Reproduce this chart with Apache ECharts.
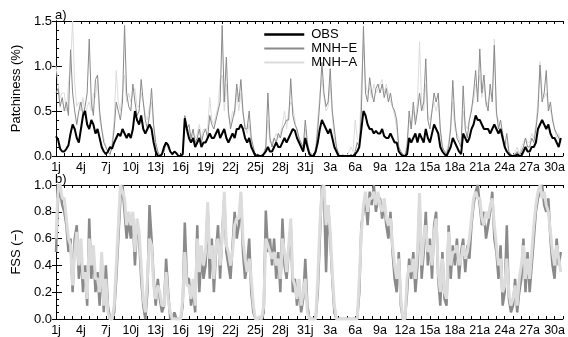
<!DOCTYPE html>
<html>
<head>
<meta charset="utf-8">
<script src="https://cdn.jsdelivr.net/npm/echarts@6/dist/echarts.min.js"></script>
<style>
  html, body { margin: 0; padding: 0; background: #fff; }
  #chart { width: 568px; height: 337px; }
</style>
</head>
<body>
<div id="chart"></div>
<script>
// Summer 2 months, July 1 to August 31, sampled every 6 hours (4 values per day)
const STEP_DAYS = 0.25;

// Tick labels every 3 days (j = juillet, a = août)
const tickLabels = ['1j','4j','7j','10j','13j','16j','19j','22j','25j','28j','31j',
                    '3a','6a','9a','12a','15a','18a','21a','24a','27a','30a'];

// Patchiness (%) — observations
const obs = [
  .22,.18,.08,.05, .05,.08,.12,.25, .35,.3,.2,.15, .3,.45,.5,.35,
  .3,.4,.35,.25, .3,.2,.1,.05, .02,.05,.1,.08, .15,.2,.25,.22,
  .3,.25,.2,.25, .2,.3,.5,.4, .35,.45,.3,.25, .3,.35,.3,.15,
  .05,0,0,.02, .1,.15,.12,.05, .02,.05,.03,0, 0,.02,.42,.3,
  .2,.15,.2,.1, .15,.2,.1,.15, .15,.2,.25,.2, .2,.25,.3,.2,
  .25,.3,.2,.15, .2,.25,.2,.3, .3,.35,.3,.2, .15,.2,.1,.05,
  0,.01,0,0, .02,.05,.1,.05, .05,.1,.15,.1, .1,.15,.2,.15,
  .2,.25,.3,.28, .2,.15,.1,.05, .2,.1,.02,0, 0,.05,.15,.3,
  .4,.35,.3,.25, .3,.2,.1,.05, 0,0,0,0, 0,0,0,0,
  .02,.05,.1,.3, .5,.45,.35,.3, .3,.25,.28,.25, .25,.3,.22,.2,
  .2,.25,.2,.15, .15,.05,.02,0, 0,.02,.2,.15, .2,.25,.15,.25,
  .2,.15,.3,.2, .15,.25,.35,.3, .25,.1,.05,.02, 0,.05,.1,.2,
  .15,.1,.05,.02, .25,.2,.15,.2, .3,.35,.45,.4, .4,.35,.3,.3,
  .3,.25,.3,.35, .3,.25,.3,.2, .1,.05,.02,0, 0,0,.02,0,
  0,.05,.1,.05, .05,.1,.1,.15, .3,.35,.4,.35, .3,.35,.25,.2,
  .2,.15,.1,.2
];

// Patchiness (%) — MNH-E simulation
const mnhE = [
  .7,.75,.55,.65, .5,.6,.45,1.18, .7,.5,.35,.5, .6,.45,.55,.7,
  1.3,.6,.45,.85, .9,.5,.3,.15, .1,.05,.02,.1, .3,.6,.5,.4,
  .6,1.45,.7,.55, .5,.8,.6,.45, .5,.85,.6,.4, .3,.45,.75,.35,
  .15,.05,0,.02, .05,.15,.1,.05, .02,.05,.02,0, 0,.02,.45,.3,
  .35,.2,.3,.15, .2,.3,.15,.25, .3,.2,.45,.35, .3,.4,.5,.6,
  1.45,.6,1.1,.5, .3,.4,.5,.8, .6,.85,.5,.3, .3,.5,.2,.1,
  0,.02,0,.01, .02,.1,.7,.2, .1,.2,.15,.25, .2,.3,.35,.4,
  .4,.86,.45,.35, .3,.2,.15,.1, .4,.15,.05,.02, 0,.05,.3,.6,
  1.04,.7,.55,.6, .97,.5,.3,.1, .02,0,.01,0, 0,0,.02,0,
  .05,.15,.1,.5, 1.44,.7,.6,.87, .7,.6,.75,.8, .7,.8,.65,.75,
  .6,.7,.55,.5, .4,.1,.05,.02, 0,.1,.5,.3, .6,.35,.5,.7,
  .5,.6,1.08,.4, .3,.5,.7,.6, .7,.3,.1,.05, .02,.1,.3,.84,
  .4,.2,.15,.1, .78,.3,.2,.4, .5,.7,.95,.6, 1.19,.7,.9,.6,
  .5,.8,.6,1.23, .5,.3,.4,.25, .1,.25,.05,.02, 0,.02,.05,0,
  .05,.1,.2,.1, .1,.2,.15,.3, .5,1.01,.6,.7, .95,.5,.6,.4,
  .3,.25,.2,.15
];

// Patchiness (%) — MNH-A simulation
const mnhA = [
  1.0,.8,.65,.7, .7,.5,.8,1.0, 1.5,.8,.55,.6, .5,.65,.45,.55,
  .6,.5,.7,.65, .85,.4,.3,.2, .1,.05,0,.15, .4,.95,.6,.5,
  .7,.9,.6,.7, .6,.7,.75,.55, .55,.7,.6,.45, .4,.55,.6,.3,
  .1,.05,0,.05, .1,.12,.08,.05, 0,.05,.03,0, 0,.05,.35,.25,
  .3,.15,.25,.2, .25,.35,.2,.3, .3,.3,.65,.4, .35,.45,.55,.85,
  .9,.5,.8,.45, .35,.5,.45,.7, .5,.7,.45,.35, .25,.35,.15,.05,
  0,.02,0,0, .05,.1,.4,.15, .15,.2,.25,.2, .25,.35,.5,.3,
  .5,.6,.55,.4, .25,.2,.1,.05, .3,.1,.05,0, 0,.1,.4,.7,
  .85,.65,.5,.55, .8,.45,.2,.1, .05,0,.02,0, 0,.05,.1,.05,
  .4,.2,.15,.8, 1.25,.8,.7,.75, .65,.8,.7,.75, .8,.85,.7,.8,
  .7,.6,.55,.45, .3,.1,.05,.02, .02,.15,.4,.3, .5,.4,.6,1.27,
  .6,.5,.8,.45, .4,.5,.6,.5, .6,.25,.1,.05, .05,.15,.35,.6,
  .3,.25,.2,.1, .5,.35,.3,.4, .55,.6,.8,.7, .9,.65,.8,.55,
  .6,.7,.65,1.3, .45,.4,.3,.25, .1,.15,.05,0, 0,.05,.1,.02,
  .1,.15,.2,.15, .15,.25,.2,.35, .6,1.05,.7,.65, .7,.55,.5,.45,
  .3,.2,.25,.15
];

// FSS (−) — MNH-E simulation
const fssE = [
  .5,.9,.95,.85, .8,.7,.5,.6, .2,.6,.7,.3, .5,.2,.4,.1,
  .75,.3,.5,.2, .35,.1,.45,.05, .4,.1,0,0, .05,.3,.6,.9,
  1.0,.8,.6,.75, .6,.75,.4,.7, .6,.3,.1,0, .2,.85,.6,.3,
  .1,.3,.15,.05, .1,.45,.2,0, 0,.05,0,0, 0,.1,.72,.3,
  .3,.1,.2,.05, .7,.2,.5,.3, .4,.85,.3,.6, .2,.5,.7,.3,
  .65,.9,.5,.4, .3,.55,.8,.6, .7,.9,.5,.3, .4,.6,.2,.05,
  0,0,0,0, .05,.81,.5,.6, .4,.6,.3,.5, .2,.75,.4,.3,
  .5,.7,.2,.3, .1,.25,.05,.15, .45,.1,0,0, 0,0,.2,.6,
  1.0,.95,.35,.85, .6,.3,.05,0, 0,0,0,0, 0,0,0,0,
  0,0,.2,.7, .8,.9,.7,.95, .85,1.0,.8,.9, .9,.75,.85,.7,
  .6,.8,.5,.3, .2,.5,.1,0, 0,.2,.45,.3, .5,.2,.4,.9,
  .3,.5,.8,.4, .6,.3,.7,.8, .3,.1,.5,.15, .1,.7,.3,.55,
  .4,.6,.3,.5, .6,.35,.55,.45, .7,.85,.95,1.0, .85,.7,.8,.6,
  .7,.8,.95,.6, .5,.3,.55,.1, .2,.7,.15,.05, .1,.3,.05,.2,
  .3,.6,.2,.5, .2,.4,.6,.8, .9,.95,1.0,.85, .8,.9,.6,.4,
  .3,.6,.4,.5
];

// FSS (−) — MNH-A simulation
const fssA = [
  .6,1.0,1.0,.9, .9,.75,.6,.55, .25,.5,.65,.4, .6,.3,.35,.15,
  .6,.4,.55,.3, .3,.2,.5,.1, .3,.05,0,0, .1,.4,.7,1.0,
  .95,.9,.7,.8, .7,.8,.5,.75, .65,.4,.15,.05, .3,.6,.55,.25,
  .15,.25,.2,.1, .1,.35,.15,.05, 0,0,0,0, 0,.15,.5,.25,
  .25,.15,.3,.1, .6,.35,.55,.4, .5,.87,.45,.55, .3,.55,.6,.4,
  .6,.95,.55,.5, .4,.5,.7,.75, .75,.95,.6,.45, .35,.45,.3,.1,
  0,0,.02,0, .1,.6,.55,.5, .45,.5,.4,.45, .3,.6,.5,.35,
  .55,.75,.3,.25, .15,.3,.1,.2, .3,.05,0,0, 0,0,.3,.7,
  .95,1.0,.7,.85, .65,.35,.1,0, 0,0,0,0, 0,0,0,0,
  0,0,.3,.65, .85,.95,.8,.9, .9,.95,.85,.95, .85,.8,.9,.75,
  .7,.75,.55,.4, .3,.45,.15,0, 0,.3,.4,.35, .45,.3,.5,.94,
  .4,.6,.7,.5, .55,.4,.65,.75, .35,.2,.45,.2, .15,.65,.4,.5,
  .5,.55,.4,.45, .55,.45,.5,.6, .75,.9,.95,.9, .9,.75,.7,.8,
  .75,.85,.9,.7, .55,.4,.45,.2, .25,.45,.2,.1, .15,.25,.1,.3,
  .4,.55,.3,.45, .3,.5,.7,.85, .95,1.0,.9,.95, .85,.8,.65,.5,
  .4,.55,.45,.35
];

const FONT = '"Liberation Sans", Arial, Helvetica, sans-serif';
const C_OBS = '#000000';
const C_E = '#8a8a8a';
const C_A = '#dcdcdc';

const toPairs = arr => arr.map((v, i) => [i * STEP_DAYS, v]);

const chart = echarts.init(document.getElementById('chart'), null, { renderer: 'canvas' });

// Day axis: a tick each day, a label every 3 days
function dayAxis(gridIndex, position, showLabels) {
  return {
    type: 'value', gridIndex, position, min: 0, max: 61, interval: 1,
    axisLine: { show: true, onZero: false, lineStyle: { color: '#000', width: 1 } },
    axisTick: { show: true, inside: true, length: 3, lineStyle: { color: '#000' } },
    splitLine: { show: false },
    axisLabel: {
      show: showLabels, margin: 5, color: '#000', fontFamily: FONT, fontSize: 12.5,
      showMaxLabel: true,
      formatter: v => (v % 3 === 0 && tickLabels[v / 3] !== undefined) ? tickLabels[v / 3] : ''
    }
  };
}

function valueAxis(gridIndex, position, max, interval, minorSplit, name, showLabels) {
  return {
    type: 'value', gridIndex, position, min: 0, max, interval,
    name: showLabels ? name : '',
    nameLocation: 'middle', nameGap: 32, nameRotate: 90,
    nameTextStyle: { color: '#000', fontFamily: FONT, fontSize: 13 },
    axisLine: { show: true, lineStyle: { color: '#000', width: 1 } },
    axisTick: { show: true, inside: true, length: showLabels ? 6 : 4, lineStyle: { color: '#000' } },
    minorTick: { show: showLabels, splitNumber: minorSplit, length: 3, lineStyle: { color: '#000' } },
    splitLine: { show: false },
    axisLabel: {
      show: showLabels, margin: 4, color: '#000', fontFamily: FONT, fontSize: 13,
      formatter: v => v.toFixed(1)
    }
  };
}

const lineSeries = (name, data, color, width, xi, yi, z) => ({
  type: 'line', name, data: toPairs(data), xAxisIndex: xi, yAxisIndex: yi,
  symbol: 'none', showSymbol: false, smooth: false, z,
  lineStyle: { color, width }, itemStyle: { color },
  emphasis: { disabled: true }
});

const labelStyle = { fontFamily: FONT, fontSize: 13, fontWeight: 'normal', color: '#000' };

chart.setOption({
  animation: false,
  backgroundColor: '#fff',
  grid: [
    { left: 56, right: 2, top: 21, height: 135 },
    { left: 56, right: 2, top: 185, height: 135 }
  ],
  title: [
    { text: 'a)', left: 55, top: 9, padding: 0, textStyle: labelStyle },
    { text: 'b)', left: 55, top: 173, padding: 0, textStyle: labelStyle }
  ],
  legend: {
    left: 263, top: 28, orient: 'vertical', padding: 0,
    itemWidth: 40, itemHeight: 13, itemGap: 1,
    itemStyle: { opacity: 0 },
    textStyle: { fontFamily: FONT, fontSize: 13, color: '#000', padding: [0, 0, 0, 2] },
    data: [
      { name: 'OBS', lineStyle: { width: 2.5 } },
      { name: 'MNH−E', lineStyle: { width: 2 } },
      { name: 'MNH−A', lineStyle: { width: 2 } }
    ]
  },
  xAxis: [
    dayAxis(0, 'bottom', true),
    dayAxis(0, 'top', false),
    dayAxis(1, 'bottom', true),
    dayAxis(1, 'top', false)
  ],
  yAxis: [
    valueAxis(0, 'left', 1.5, 0.5, 5, 'Patchiness (%)', true),
    valueAxis(0, 'right', 1.5, 0.5, 5, '', false),
    valueAxis(1, 'left', 1.0, 0.2, 4, 'FSS (−)', true),
    valueAxis(1, 'right', 1.0, 0.2, 4, '', false)
  ],
  series: [
    lineSeries('MNH−A', mnhA, C_A, 1, 0, 0, 2),
    lineSeries('MNH−E', mnhE, C_E, 1, 0, 0, 3),
    lineSeries('OBS', obs, C_OBS, 2, 0, 0, 4),
    lineSeries('MNH−E', fssE, C_E, 2.5, 2, 2, 2),
    lineSeries('MNH−A', fssA, C_A, 3, 2, 2, 3)
  ]
});
</script>
</body>
</html>
